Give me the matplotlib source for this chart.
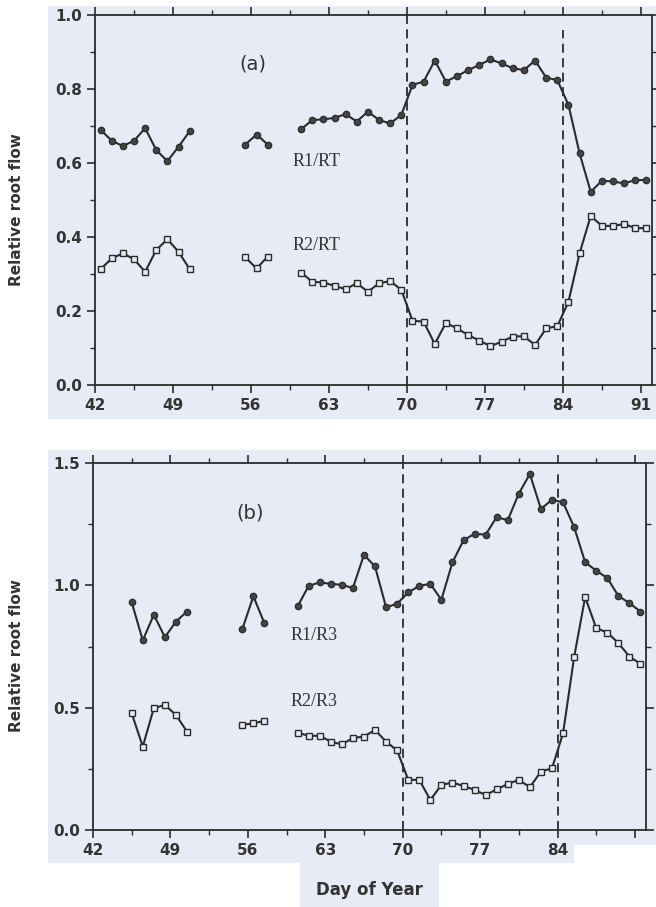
import numpy as np
import matplotlib
matplotlib.use("Agg")
import matplotlib.pyplot as plt
from matplotlib.patches import Rectangle
from matplotlib.ticker import MultipleLocator

# ---------------- data ----------------
days_a = [42.5, 43.5, 44.5, 45.5, 46.5, 47.5, 48.5, 49.5, 50.5, np.nan,
          55.5, 56.5, 57.5, np.nan,
          60.5, 61.5, 62.5, 63.5, 64.5, 65.5, 66.5, 67.5, 68.5, 69.5,
          70.5, 71.5, 72.5, 73.5, 74.5, 75.5, 76.5, 77.5, 78.5, 79.5,
          80.5, 81.5, 82.5, 83.5, 84.5, 85.5, 86.5, 87.5, 88.5, 89.5,
          90.5, 91.5]
r1_rt = [0.690, 0.660, 0.646, 0.660, 0.694, 0.635, 0.605, 0.644, 0.686, np.nan,
         0.650, 0.677, 0.650, np.nan,
         0.691, 0.716, 0.718, 0.722, 0.732, 0.712, 0.739, 0.716, 0.707, 0.730,
         0.811, 0.820, 0.877, 0.820, 0.835, 0.851, 0.865, 0.880, 0.869, 0.856,
         0.851, 0.877, 0.831, 0.824, 0.757, 0.626, 0.522, 0.552, 0.550, 0.545,
         0.554, 0.554]
r2_rt = [0.313, 0.342, 0.356, 0.340, 0.306, 0.365, 0.394, 0.360, 0.313, np.nan,
         0.345, 0.315, 0.347, np.nan,
         0.304, 0.279, 0.277, 0.268, 0.259, 0.275, 0.252, 0.275, 0.281, 0.257,
         0.174, 0.171, 0.111, 0.168, 0.153, 0.135, 0.120, 0.105, 0.117, 0.131,
         0.132, 0.108, 0.153, 0.159, 0.225, 0.356, 0.457, 0.430, 0.430, 0.435,
         0.424, 0.424]

days_b = [45.5, 46.5, 47.5, 48.5, 49.5, 50.5, np.nan,
          55.5, 56.5, 57.5, np.nan,
          60.5, 61.5, 62.5, 63.5, 64.5, 65.5, 66.5, 67.5, 68.5, 69.5,
          70.5, 71.5, 72.5, 73.5, 74.5, 75.5, 76.5, 77.5, 78.5, 79.5,
          80.5, 81.5, 82.5, 83.5, 84.5, 85.5, 86.5, 87.5, 88.5, 89.5,
          90.5, 91.5]
r1_r3 = [0.931, 0.775, 0.880, 0.788, 0.852, 0.893, np.nan,
         0.821, 0.955, 0.845, np.nan,
         0.914, 0.998, 1.012, 1.006, 1.002, 0.989, 1.125, 1.077, 0.910, 0.925,
         0.971, 0.998, 1.006, 0.941, 1.094, 1.184, 1.211, 1.207, 1.279, 1.266,
         1.375, 1.455, 1.312, 1.350, 1.339, 1.238, 1.094, 1.060, 1.030, 0.957,
         0.927, 0.893]
r2_r3 = [0.477, 0.341, 0.498, 0.511, 0.470, 0.402, np.nan,
         0.430, 0.436, 0.446, np.nan,
         0.398, 0.385, 0.385, 0.361, 0.350, 0.376, 0.382, 0.409, 0.361, 0.325,
         0.205, 0.205, 0.123, 0.184, 0.194, 0.180, 0.164, 0.143, 0.166, 0.188,
         0.205, 0.175, 0.239, 0.252, 0.395, 0.706, 0.952, 0.825, 0.807, 0.764,
         0.709, 0.679]

xticks_a = [42, 49, 56, 63, 70, 77, 84, 91]
xticks_b = [42, 49, 56, 63, 70, 77, 84]
event_days = [70, 84]

# ---------------- style ----------------
W, H = 656, 907
TINT = "#e7ebf5"
INK = "#2b2b2b"
fig = plt.figure(figsize=(W / 100, H / 100), dpi=100)
fig.patch.set_facecolor("white")


def px_rect(x0, y0, x1, y1):
    fig.add_artist(Rectangle((x0 / W, 1 - y1 / H), (x1 - x0) / W, (y1 - y0) / H,
                             transform=fig.transFigure, facecolor=TINT,
                             edgecolor="none", zorder=-10))


px_rect(48, 6, 656, 419)
px_rect(48, 450, 656, 845)
px_rect(48, 845, 574, 863)
px_rect(300, 863, 439, 907)


def make_axes(rect):
    l, t, r, b = rect
    ax = fig.add_axes([l / W, 1 - b / H, (r - l) / W, (b - t) / H])
    ax.set_facecolor("none")
    for s in ax.spines.values():
        s.set_color(INK)
        s.set_linewidth(1.3)
    ax.xaxis.set_ticks_position("both")
    ax.yaxis.set_ticks_position("both")
    ax.tick_params(which="major", direction="out", length=6, width=1.2,
                   color=INK, labelsize=11, labelcolor="#333333")
    ax.tick_params(which="minor", direction="out", length=3.5, width=1.0,
                   color=INK)
    ax.xaxis.set_minor_locator(MultipleLocator(3.5))
    return ax


def draw_series(ax, x, y1, y2):
    ax.plot(x, y1, color=INK, lw=1.5, marker="o", ms=4.6,
            mfc="#444444", mec=INK, mew=0.9, zorder=3)
    ax.plot(x, y2, color=INK, lw=1.5, marker="s", ms=5.0,
            mfc=TINT, mec=INK, mew=1.0, zorder=3)


# ---- panel (a) ----
ax1 = make_axes((95, 15, 652, 385))
draw_series(ax1, days_a, r1_rt, r2_rt)
ax1.set_xlim(42, 92)
ax1.set_ylim(0, 1.0)
ax1.set_xticks(xticks_a)
ax1.set_xticklabels([str(v) for v in xticks_a], fontweight="bold")
ax1.set_yticks([0.0, 0.2, 0.4, 0.6, 0.8, 1.0])
ax1.set_yticklabels(["0.0", "0.2", "0.4", "0.6", "0.8", "1.0"], fontweight="bold")
ax1.yaxis.set_minor_locator(MultipleLocator(0.1))
ax1.axvline(event_days[0], ymax=1.0, color=INK, lw=1.3, ls=(0, (5, 3)), zorder=2)
ax1.axvline(event_days[1], ymax=0.96, color=INK, lw=1.3, ls=(0, (5, 3)), zorder=2)
ax1.text(56.2, 0.868, "(a)", fontsize=14, ha="center", va="center", color="#333333")
ax1.text(59.7, 0.605, "R1/RT", fontsize=13, family="Liberation Serif",
         ha="left", va="center", color="#333333")
ax1.text(59.7, 0.376, "R2/RT", fontsize=13, family="Liberation Serif",
         ha="left", va="center", color="#333333")

# ---- panel (b) ----
ax2 = make_axes((93, 463, 646, 830))
draw_series(ax2, days_b, r1_r3, r2_r3)
ax2.set_xlim(42, 92)
ax2.set_ylim(0, 1.5)
ax2.set_xticks(xticks_a)
ax2.set_xticklabels([str(v) if v in xticks_b else "" for v in xticks_a],
                    fontweight="bold")
ax2.set_yticks([0.0, 0.5, 1.0, 1.5])
ax2.set_yticklabels(["0.0", "0.5", "1.0", "1.5"], fontweight="bold")
ax2.yaxis.set_minor_locator(MultipleLocator(0.25))
ax2.axvline(event_days[0], ymax=1.0, color=INK, lw=1.3, ls=(0, (5, 3)), zorder=2)
ax2.axvline(event_days[1], ymax=0.97, color=INK, lw=1.3, ls=(0, (5, 3)), zorder=2)
ax2.text(56.2, 1.294, "(b)", fontsize=14, ha="center", va="center", color="#333333")
ax2.text(59.9, 0.796, "R1/R3", fontsize=13, family="Liberation Serif",
         ha="left", va="center", color="#333333")
ax2.text(59.9, 0.527, "R2/R3", fontsize=13, family="Liberation Serif",
         ha="left", va="center", color="#333333")

# ---- labels ----
fig.text(17 / W, 1 - 210 / H, "Relative root flow", rotation=90, ha="center",
         va="center", fontsize=11, fontweight="bold", color="#333333")
fig.text(17 / W, 1 - 656 / H, "Relative root flow", rotation=90, ha="center",
         va="center", fontsize=11, fontweight="bold", color="#333333")
fig.text(369 / W, 1 - 890 / H, "Day of Year", ha="center", va="center",
         fontsize=12, fontweight="bold", color="#333333")

fig.savefig("out.png", dpi=100, facecolor="white")
